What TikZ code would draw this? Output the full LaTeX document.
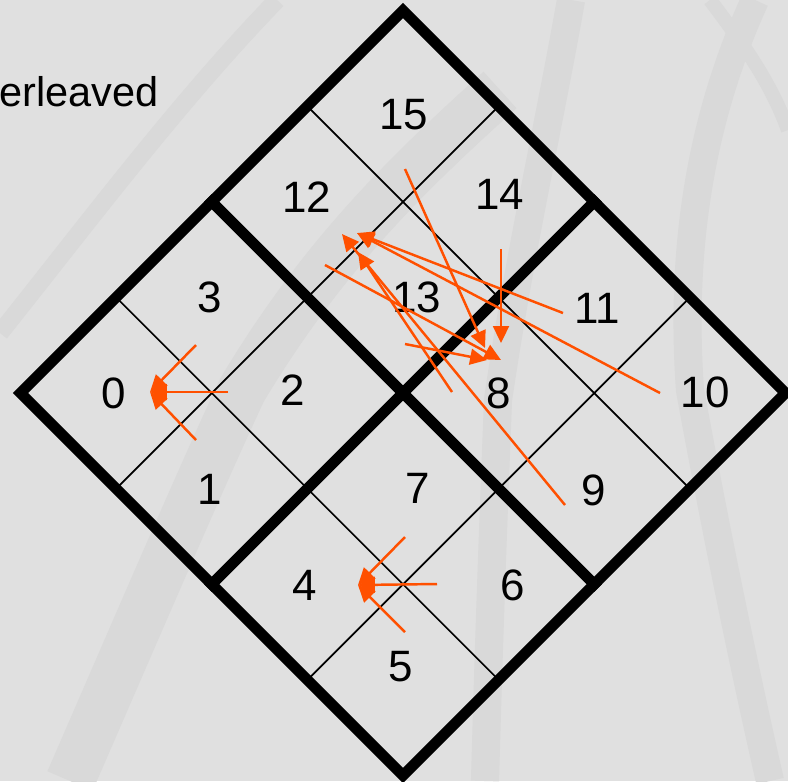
\documentclass[tikz,border=0pt]{standalone}
\usepackage{fontspec}
\setmainfont{Liberation Sans}
\usetikzlibrary{arrows.meta}
\definecolor{slideGrey}{RGB}{224,224,224}
\definecolor{slideBand}{RGB}{217,217,217}
\definecolor{hopOrange}{RGB}{255,80,0}

\begin{document}
\begin{tikzpicture}[
    cell/.style={font=\fontsize{12.5}{14}\selectfont,inner sep=0pt},
    heavy/.style={line width=3.1pt,line cap=rect},
    light/.style={line width=0.5pt},
    band/.style={draw=slideBand,line width=8pt},
    hop/.style={-{Triangle[length=4.8pt,width=4.5pt]},line width=0.7pt,draw=hopOrange}
  ]
  \useasboundingbox (0,0) rectangle (7.88,-7.81);
  \clip (0,0) rectangle (7.88,-7.81);
  \fill[slideGrey] (0,0) rectangle (7.88,-7.81);

  % faint slide background
  \draw[band,line width=14pt] (0.70,-7.81) .. controls (1.40,-6.20) and (2.00,-4.80) .. (2.42,-3.90) .. controls (3.20,-2.60) and (4.00,-1.80) .. (5.00,-0.90);
  \draw[band,line width=5pt] (0,-3.33) .. controls (0.90,-2.20) and (1.80,-1.00) .. (2.77,0);
  \draw[band] (4.85,-7.81) .. controls (4.90,-6.00) and (4.95,-4.80) .. (4.98,-4.00) .. controls (5.20,-2.50) and (5.50,-1.20) .. (5.71,0);
  \draw[band] (7.70,-7.81) .. controls (7.40,-6.50) and (7.10,-5.00) .. (6.90,-3.90) .. controls (6.80,-2.50) and (7.00,-1.20) .. (7.55,0);
  \draw[band,line width=4pt] (7.10,0) .. controls (7.40,-0.40) and (7.70,-0.80) .. (7.88,-1.30);

  \node[anchor=base west,inner sep=0pt,font=\fontsize{11.8}{14}\selectfont] (title) at (-0.01,-1.06) {erleaved};

  % the grid, 4 x 4 turned by 45 degrees
  \begin{scope}[shift={(4.03,-3.93)},rotate=45,scale=1.3523]
    \foreach \k in {-1,1} {
      \draw[light] (\k,-2) -- (\k,2);
      \draw[light] (-2,\k) -- (2,\k);
    }
    \draw[heavy] (0,-2) -- (0,2);
    \draw[heavy] (-2,0) -- (2,0);
    \draw[heavy,line cap=butt] (-2,-2) rectangle (2,2);
  \end{scope}

  \node[cell] (n0)  at (1.14,-3.93) {0};
  \node[cell] (n1)  at (2.10,-4.89) {1};
  \node[cell] (n2)  at (2.93,-3.90) {2};
  \node[cell] (n3)  at (2.10,-2.97) {3};
  \node[cell] (n4)  at (3.05,-5.85) {4};
  \node[cell] (n5)  at (4.01,-6.67) {5};
  \node[cell] (n6)  at (5.13,-5.85) {6};
  \node[cell] (n7)  at (4.18,-4.88) {7};
  \node[cell] (n8)  at (4.99,-3.93) {8};
  \node[cell] (n9)  at (5.94,-4.90) {9};
  \node[cell] (n10) at (7.05,-3.92) {10};
  \node[cell] (n11) at (5.97,-3.08) {11};
  \node[cell] (n12) at (3.07,-1.97) {12};
  \node[cell] (n13) at (4.17,-2.97) {13};
  \node[cell] (n14) at (5.00,-1.94) {14};
  \node[cell] (n15) at (4.04,-1.15) {15};

  % arrow ends
  \coordinate (q0) at (1.50,-3.92);
  \coordinate (s3) at (1.96,-3.45);
  \coordinate (s2) at (2.28,-3.92);
  \coordinate (s1) at (1.96,-4.40);
  \coordinate (q4) at (3.58,-5.85);
  \coordinate (s7) at (4.05,-5.37);
  \coordinate (s6) at (4.37,-5.84);
  \coordinate (s5) at (4.05,-6.32);
  \coordinate (s15) at (4.05,-1.69);
  \coordinate (s14) at (5.01,-2.49);
  \coordinate (s13) at (4.05,-3.44);
  \coordinate (s12) at (3.25,-2.65);
  \coordinate (s11) at (5.63,-3.13);
  \coordinate (s10) at (6.60,-3.93);
  \coordinate (s9)  at (5.65,-5.05);
  \coordinate (s8)  at (4.52,-3.92);
  \coordinate (e15) at (4.85,-3.48);
  \coordinate (e14) at (5.01,-3.43);
  \coordinate (e13) at (4.87,-3.60);
  \coordinate (e12) at (5.01,-3.60);
  \coordinate (f11) at (3.57,-2.33);
  \coordinate (f9)  at (3.42,-2.34);
  \coordinate (f8)  at (3.58,-2.52);

  \draw[hop] (s3) -- (q0);
  \draw[hop] (s2) -- (q0);
  \draw[hop] (s1) -- (q0);
  \draw[hop] (s7) -- (q4);
  \draw[hop] (s6) -- (q4);
  \draw[hop] (s5) -- (q4);
  \draw[hop] (s15) -- (e15);
  \draw[hop] (s14) -- (e14);
  \draw[hop] (s13) -- (e13);
  \draw[hop] (s12) -- (e12);
  \draw[hop] (s11) -- (f11);
  \draw[hop] (s10) -- (f11);
  \draw[hop] (s9) -- (f9);
  \draw[hop] (s8) -- (f8);
\end{tikzpicture}
\end{document}
